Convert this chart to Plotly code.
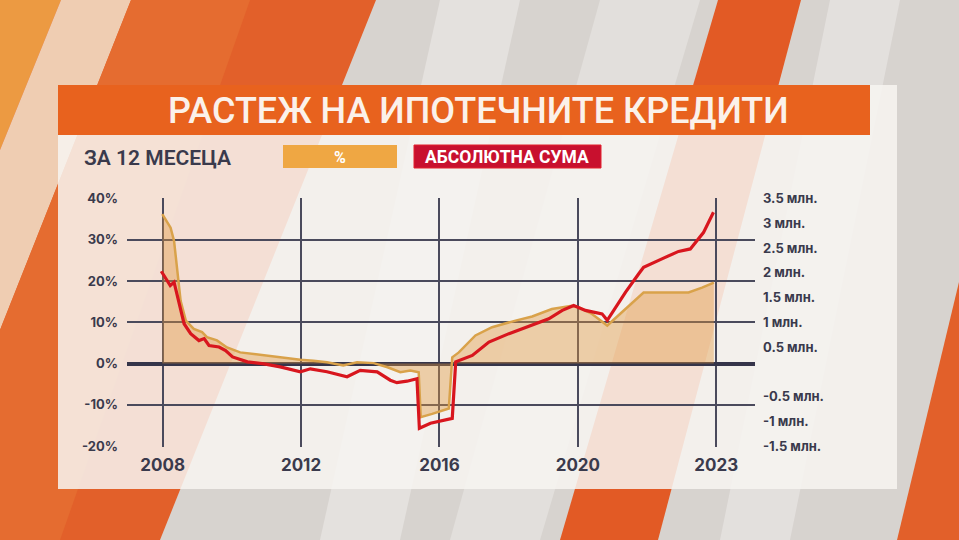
import plotly.graph_objects as go

W, H = 959, 540

# ---------------- data ----------------
# x positions are in "chart years": the last gridline (labelled 2023) sits at 2024
pct_x = [2007.99, 2008.23, 2008.33, 2008.38, 2008.43, 2008.52, 2008.67, 2008.9, 2009.14, 2009.28,
         2009.57, 2009.86, 2010.24, 2010.73, 2011.4, 2011.98, 2012.36, 2012.75, 2013.22, 2013.62,
         2014.1, 2014.5, 2014.87, 2015.16, 2015.4, 2015.46, 2015.79, 2016.27, 2016.37, 2016.56,
         2017.04, 2017.52, 2018.2, 2018.68, 2019.25, 2019.83, 2020.03, 2020.41, 2020.85, 2021.38,
         2021.9, 2022.53, 2023.2, 2023.59, 2023.93]
pct_y = [36.2, 32.9, 29.7, 25.7, 20.8, 15.2, 10.4, 8.4, 7.6, 6.4,
         5.6, 3.9, 2.7, 2.2, 1.5, 0.9, 0.7, 0.3, -0.5, 0.3,
         0.1, -0.9, -2.1, -1.7, -2.1, -13.0, -12.2, -10.9, 1.5, 2.7,
         6.8, 8.8, 10.4, 11.4, 13.2, 14.0, 13.6, 12.0, 9.2, 13.2,
         17.2, 17.2, 17.2, 18.4, 19.6]

abs_x = [2007.96, 2008.13, 2008.22, 2008.33, 2008.43, 2008.62, 2008.81, 2009.05, 2009.2, 2009.34,
         2009.63, 2009.82, 2010.02, 2010.45, 2010.93, 2011.4, 2011.98, 2012.27, 2012.75, 2013.33,
         2013.71, 2014.2, 2014.58, 2014.77, 2015.06, 2015.35, 2015.42, 2015.74, 2016.37, 2016.47,
         2016.95, 2017.43, 2018.01, 2018.68, 2019.16, 2019.55, 2019.88, 2020.22, 2020.7, 2020.85,
         2021.38, 2021.76, 2021.9, 2022.43, 2022.91, 2023.25, 2023.63, 2023.92]
abs_y = [2.03, 1.84, 1.74, 1.81, 1.51, 0.97, 0.77, 0.63, 0.67, 0.53,
         0.50, 0.43, 0.30, 0.20, 0.16, 0.10, 0.0, 0.06, 0.0, -0.10,
         0.03, 0.0, -0.17, -0.22, -0.19, -0.14, -1.14, -1.04, -0.94, 0.20,
         0.33, 0.60, 0.77, 0.94, 1.07, 1.24, 1.34, 1.24, 1.17, 1.04,
         1.61, 1.98, 2.11, 2.28, 2.43, 2.48, 2.81, 3.22]

x_tick_vals = [2008, 2012, 2016, 2020, 2024]
x_tick_text = ["2008", "2012", "2016", "2020", "2023"]
pct_ticks = [-20, -10, 0, 10, 20, 30, 40]
pct_labels = ["-20%", "-10%", "0%", "10%", "20%", "30%", "40%"]
mln_ticks = [-1.5, -1, -0.5, 0.5, 1, 1.5, 2, 2.5, 3, 3.5]
mln_labels = ["-1.5 млн.", "-1 млн.", "-0.5 млн.", "0.5 млн.", "1 млн.", "1.5 млн.",
              "2 млн.", "2.5 млн.", "3 млн.", "3.5 млн."]

title_text = "РАСТЕЖ НА ИПОТЕЧНИТЕ КРЕДИТИ"
subtitle_text = "ЗА 12 МЕСЕЦА"
legend_pct = "%"
legend_abs = "АБСОЛЮТНА СУМА"

# ---------------- helpers (pixel -> paper) ----------------
def px(x):
    return x / W

def py(y):
    return 1 - y / H

def poly(points, color, line=None):
    d = "M " + " L ".join(f"{px(a):.5f},{py(b):.5f}" for a, b in points) + " Z"
    return dict(type="path", xref="paper", yref="paper", path=d, fillcolor=color,
                line=line or dict(width=0), layer="below")

def rect(x0, y0, x1, y1, color, line=None):
    return dict(type="rect", xref="paper", yref="paper", x0=px(x0), x1=px(x1),
                y0=py(y1), y1=py(y0), fillcolor=color, line=line or dict(width=0), layer="below")

ORANGE_LINE = "#d9a24a"
RED_LINE = "#d8161e"
INK = "#3a3a4c"

fig = go.Figure()
fig.add_trace(go.Scatter(x=pct_x, y=pct_y, mode="lines", fill="tozeroy",
                         fillcolor="rgba(224,150,60,0.40)",
                         line=dict(color=ORANGE_LINE, width=2.5), yaxis="y", hoverinfo="skip"))
fig.add_trace(go.Scatter(x=abs_x, y=abs_y, mode="lines",
                         line=dict(color=RED_LINE, width=3.2), yaxis="y2", hoverinfo="skip"))

shapes = [
    # background stripes
    poly([(0, 0), (376, 0), (160, 540), (0, 540)], "#e2602a"),
    poly([(0, 0), (61, 0), (0, 150)], "#ec9a42"),
    poly([(61, 0), (131, 0), (0, 330), (0, 150)], "#efcdb2"),
    poly([(131, 0), (250, 0), (60, 540), (0, 540), (0, 330)], "#e56c30"),
    poly([(440, 0), (520, 0), (400, 540), (320, 540)], "#e4e1de"),
    poly([(600, 0), (700, 0), (540, 540), (450, 540)], "#e2dfdc"),
    poly([(718, 0), (801, 0), (658, 540), (560, 540)], "#e25a25"),
    poly([(830, 0), (900, 0), (790, 540), (720, 540)], "#e3e0dd"),
    poly([(959, 282), (959, 540), (897, 540)], "#e2602a"),
    # translucent panel
    rect(58, 85, 897, 489, "rgba(247,244,241,0.86)"),
    # title bar
    rect(58, 85, 870, 135, "#e8621e"),
    # legend boxes
    rect(283, 145, 397, 168, "#efa743"),
    rect(414, 145, 601, 168, "#c8102e", line=dict(color="#e3202c", width=1)),
]

annotations = [
    dict(x=px(478.5), y=py(111), xref="paper", yref="paper", text=title_text, showarrow=False,
         xanchor="center", yanchor="middle",
         font=dict(family="Roboto", size=36, color="#fbf1ea", weight=500)),
    dict(x=px(82), y=py(158), xref="paper", yref="paper", text=subtitle_text, showarrow=False,
         xanchor="left", yanchor="middle",
         font=dict(family="Roboto", size=21, color=INK, weight=600)),
    dict(x=px(340), y=py(157), xref="paper", yref="paper", text=legend_pct, showarrow=False,
         xanchor="center", yanchor="middle",
         font=dict(family="Roboto", size=16, color="#ffffff", weight="bold")),
    dict(x=px(507.5), y=py(157), xref="paper", yref="paper", text=legend_abs, showarrow=False,
         xanchor="center", yanchor="middle",
         font=dict(family="Roboto", size=17.5, color="#ffffff", weight="bold")),
]

tickfont = dict(family="Inter", size=13, color=INK, weight="bold")

fig.update_layout(
    width=W, height=H, margin=dict(l=0, r=0, t=0, b=0),
    paper_bgcolor="#d7d3cf", plot_bgcolor="rgba(0,0,0,0)",
    showlegend=False,
    shapes=shapes, annotations=annotations,
    xaxis=dict(domain=[px(127), px(755)], range=[2006.97, 2025.12],
               tickmode="array", tickvals=x_tick_vals, ticktext=x_tick_text,
               showgrid=True, gridcolor="#4a4a5c", gridwidth=1.5,
               zeroline=False, showline=False, ticks="",
               tickfont=dict(family="Inter", size=17, color=INK, weight="bold"),
               ticklabelstandoff=6, automargin=False, fixedrange=True),
    yaxis=dict(domain=[1 - 446.5 / H, 1 - 198 / H], range=[-20.1, 40.1],
               tickmode="array", tickvals=pct_ticks, ticktext=pct_labels,
               showgrid=True, gridcolor="#4a4a5c", gridwidth=1.5,
               zeroline=True, zerolinecolor="#35354a", zerolinewidth=4,
               showline=False, ticks="", tickfont=tickfont,
               ticklabelstandoff=8, automargin=False, fixedrange=True),
    yaxis2=dict(overlaying="y", side="right", range=[-1.5083, 3.5083],
                tickmode="array", tickvals=mln_ticks, ticktext=mln_labels,
                showgrid=False, zeroline=False, showline=False, ticks="",
                tickfont=tickfont, ticklabelstandoff=7, automargin=False, fixedrange=True),
)

fig.write_html("out.html", config={"displayModeBar": False},
               post_script="document.body.style.margin='0';document.body.style.overflow='hidden';")
